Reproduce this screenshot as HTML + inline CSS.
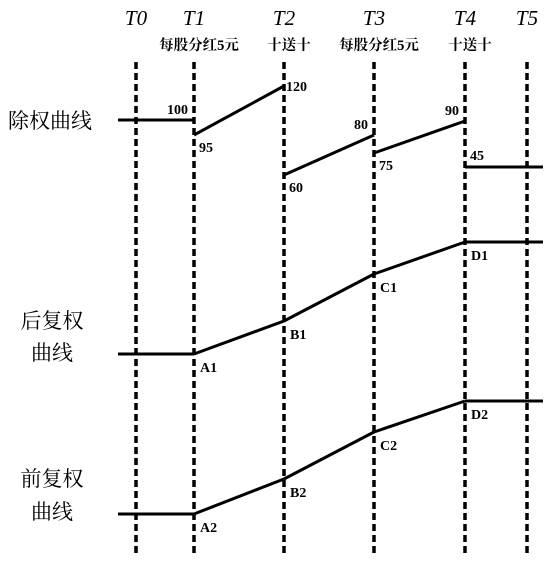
<!DOCTYPE html>
<html><head><meta charset="utf-8">
<style>
body{margin:0;background:#fff;}
svg{display:block;}
text{font-family:"Liberation Serif","Noto Serif CJK SC",serif;fill:#000;}
.t{font-style:italic;font-size:21px;}
.cap{font-weight:bold;font-size:14.5px;}
.lab{font-weight:bold;font-size:14px;}
.side{font-size:21px;}
</style></head>
<body>
<svg id="chart" width="548" height="563"></svg>
<script>
// Time points and event captions
const periods = ["T0","T1","T2","T3","T4","T5"];
const events = ["","每股分红5元","十送十","每股分红5元","十送十",""];
// Ex-rights curve: start/end display levels per segment (level units) and printed prices
const exStartLevels = [55, 40, 0, 22, 8];
const exEndLevels   = [55, 89, 40, 54, 8];
const exStartLabels = ["", "95", "60", "75", "45"];
const exEndLabels   = ["100", "120", "80", "90", ""];
// Backward-adjusted curve levels at T1..T4 (level units)
const backLevels = [0, 33, 80, 112];
const backNames = ["A1","B1","C1","D1"];
// Forward-adjusted curve levels at T1..T4
const fwdLevels = [0, 35, 82, 113];
const fwdNames = ["A2","B2","C2","D2"];

const svg = document.getElementById('chart');
const NS = "http://www.w3.org/2000/svg";
const xs = [136,194,284,374,465,527];
const xOf = i => xs[i];
const xLeft = 118, xRight = 543;
const exY = v => 175 - v;
const backY = v => 354 - v;
const fwdY = v => 514 - v;

function mk(tag, attrs, txt){
  const e = document.createElementNS(NS, tag);
  for (const k in attrs) e.setAttribute(k, attrs[k]);
  if (txt !== undefined) e.textContent = txt;
  svg.appendChild(e);
  return e;
}
function line(x1,y1,x2,y2,name){
  const e = mk('line',{x1,y1,x2,y2,stroke:'#000','stroke-width':3});
  
  
}
function label(x,y,t,cls,name,anchor){
  const e = mk('text',{x,y,class:cls,'text-anchor':anchor||'start'},t);
  
  
}

periods.forEach((p,i)=>{
  const e = mk('line',{x1:xOf(i),y1:62,x2:xOf(i),y2:553,stroke:'#000','stroke-width':3.5,'stroke-dasharray':'7 4'});
  
  
  label(xOf(i), 25, p, 't', 'period-label-' + p.toLowerCase(), 'middle');
  if (events[i]) label(xOf(i)+5, 50, events[i], 'cap', 'event-caption-' + p.toLowerCase(), 'middle');
});

// ex-rights segments
for (let s=0; s<exStartLevels.length; s++){
  const x1 = s===0 ? xLeft : xOf(s);
  const x2 = s===exStartLevels.length-1 ? xRight : xOf(s+1);
  line(x1, exY(exStartLevels[s]), x2, exY(exEndLevels[s]), 'ex-rights-segment-' + (s+1));
  if (exStartLabels[s]) label(x1+5, exY(exStartLevels[s]) + (s===4 ? -7 : 17), exStartLabels[s], 'lab', 'ex-rights-start-label-' + (s+1));
  if (exEndLabels[s]) {
    if (s===1) label(x2+2, exY(exEndLevels[s]) + 5, exEndLabels[s], 'lab', 'ex-rights-end-label-' + (s+1), 'start');
    else label(x2-6, exY(exEndLevels[s]) - 6, exEndLabels[s], 'lab', 'ex-rights-end-label-' + (s+1), 'end');
  }
}

function adjCurve(levels, yf, names, prefix){
  line(xLeft, yf(levels[0]), xOf(1), yf(levels[0]), prefix + '-segment-0');
  for (let i=0;i<levels.length-1;i++){
    line(xOf(i+1), yf(levels[i]), xOf(i+2), yf(levels[i+1]), prefix + '-segment-' + (i+1));
  }
  line(xOf(levels.length), yf(levels[levels.length-1]), xRight, yf(levels[levels.length-1]), prefix + '-segment-end');
  names.forEach((n,i)=> label(xOf(i+1)+6, yf(levels[i]) + 18, n, 'lab', prefix + '-point-' + n.toLowerCase()));
}
adjCurve(backLevels, backY, backNames, 'backward-adjusted');
adjCurve(fwdLevels, fwdY, fwdNames, 'forward-adjusted');

label(8, 128, '除权曲线', 'side', 'ex-rights-curve-title');
label(52, 328, '后复权', 'side', 'backward-adjusted-title-line1', 'middle');
label(52, 360, '曲线', 'side', 'backward-adjusted-title-line2', 'middle');
label(52, 486, '前复权', 'side', 'forward-adjusted-title-line1', 'middle');
label(52, 519, '曲线', 'side', 'forward-adjusted-title-line2', 'middle');
</script>
</body></html>
